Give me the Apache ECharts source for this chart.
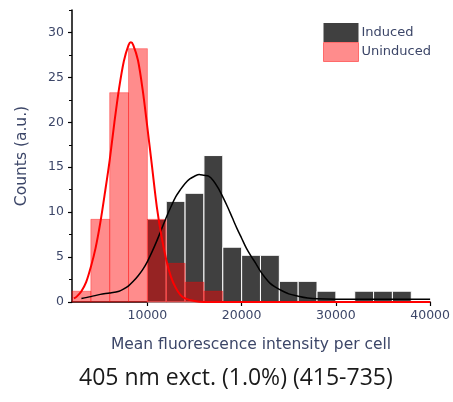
<!DOCTYPE html>
<html>
<head>
<meta charset="utf-8">
<script src="https://cdn.jsdelivr.net/npm/echarts@6/dist/echarts.min.js"></script>
<style>
  html, body { margin: 0; padding: 0; background: #fff; }
  #chart { width: 453px; height: 402px; }
</style>
</head>
<body>
<div id="chart"></div>
<script>
// Histogram bins: left edge of each 2000-wide bin
const binWidth = 2000;
const binLeft = [2000, 4000, 6000, 8000, 10000, 12000, 14000, 16000, 18000, 20000,
                 22000, 24000, 26000, 28000, 30000, 32000, 34000, 36000, 38000];
const inducedCounts = [0, 0, 0, 0, 9.2, 11.2, 12.1, 16.3, 6.1, 5.2,
                       5.2, 2.3, 2.3, 1.2, 0, 1.2, 1.2, 1.2, 0];
const uninducedCounts = [1.2, 9.2, 23.3, 28.2, 9.2, 4.3, 2.2, 1.2, 0, 0,
                         0, 0, 0, 0, 0, 0, 0, 0, 0];

// Fitted distribution curves (intensity, counts)
const inducedFitX = [3000, 4000, 5000, 6000, 7000, 7500, 8000, 8500, 9000, 9500,
  10000, 10500, 11000, 11500, 12000, 12500, 13000, 13500, 14000, 14500,
  15000, 15500, 16000, 16500, 17000, 17500, 18000, 18500, 19000, 19500,
  20000, 20500, 21000, 21500, 22000, 22500, 23000, 23500, 24000, 25000,
  26000, 27000, 28000, 30000, 35000, 40000];
const inducedFitY = [0.4, 0.6, 0.85, 1.0, 1.2, 1.45, 1.8, 2.3, 2.9, 3.6,
  4.5, 5.6, 6.8, 8.1, 9.4, 10.6, 11.7, 12.5, 13.2, 13.7,
  14.0, 14.2, 14.1, 14.0, 13.5, 12.7, 11.7, 10.6, 9.4, 8.2,
  7.1, 6.0, 5.1, 4.3, 3.4, 2.7, 2.1, 1.7, 1.4, 0.9,
  0.65, 0.45, 0.35, 0.3, 0.3, 0.3];
const uninducedFitX = [2200, 2500, 3000, 3500, 4000, 4500, 5000, 5500, 6000, 6500,
  7000, 7500, 8000, 8250, 8500, 9000, 9500, 10000, 10500, 11000,
  11500, 12000, 12500, 13000, 13500, 14000, 15000, 16000, 20000, 30000, 40000];
const uninducedFitY = [0.4, 0.6, 1.2, 2.2, 3.9, 6.0, 8.8, 12.2, 15.8, 20.0,
  23.8, 26.8, 28.6, 28.9, 28.6, 26.9, 23.6, 19.4, 15.0, 10.6,
  7.3, 4.7, 2.8, 1.6, 0.8, 0.4, 0.1, 0, 0, 0, 0];

// Axis ticks and labels
const xTickValues = [10000, 20000, 30000, 40000];
const yTickValues = [0, 5, 10, 15, 20, 25, 30];
const yMinorTickValues = [2.5, 7.5, 12.5, 17.5, 22.5, 27.5, 32.5];

const labelColor = '#3c4668';
const tickFont = 'DejaVu Sans';

function bins(counts) {
  return binLeft.map((x, i) => [x, x + binWidth, counts[i]]);
}
function pairs(xs, ys) {
  return xs.map((x, i) => [x, ys[i]]);
}
function histItem(fill, stroke, lw) {
  return function (params, api) {
    const h = api.value(2);
    if (h <= 0) return null;
    const p0 = api.coord([api.value(0), 0]);
    const p1 = api.coord([api.value(1), h]);
    return {
      type: 'rect',
      shape: { x: p0[0], y: p1[1], width: p1[0] - p0[0], height: p0[1] - p1[1] },
      style: { fill: fill, stroke: stroke, lineWidth: lw }
    };
  };
}

const chart = echarts.init(document.getElementById('chart'), null, { renderer: 'canvas' });

chart.setOption({
  animation: false,
  backgroundColor: '#ffffff',
  grid: { left: 72, right: 21, top: 10, bottom: 100 },
  legend: {
    orient: 'vertical',
    left: 323, top: 23,
    itemWidth: 35, itemHeight: 19, itemGap: 0,
    padding: 0,
    icon: 'rect',
    textStyle: { fontFamily: tickFont, fontSize: 13, color: labelColor, padding: [0, 0, 0, -2] },
    data: [
      { name: 'Induced', itemStyle: { color: '#404040', borderWidth: 0 } },
      { name: 'Uninduced', itemStyle: { color: '#ff8c8c', borderColor: '#ff6a6a', borderWidth: 1 } }
    ]
  },
  xAxis: {
    type: 'value',
    min: 2000, max: 40000,
    name: 'Mean fluorescence intensity per cell',
    nameLocation: 'middle',
    nameGap: 35,
    nameTextStyle: { fontFamily: tickFont, fontSize: 15.5, color: labelColor },
    axisLine: { show: true, onZero: false, lineStyle: { color: '#000', width: 1.5 } },
    axisTick: { show: true, inside: false, length: 4, customValues: xTickValues, lineStyle: { color: '#000', width: 1.2 } },
    axisLabel: { customValues: xTickValues, margin: 7, fontFamily: tickFont, fontSize: 12.5, color: labelColor,
                 formatter: v => String(v) },
    splitLine: { show: false }
  },
  yAxis: [{
    type: 'value',
    min: 0, max: 32.5,
    name: 'Counts (a.u.)',
    nameLocation: 'middle',
    nameGap: 42,
    nameTextStyle: { fontFamily: tickFont, fontSize: 15.5, color: labelColor },
    axisLine: { show: true, lineStyle: { color: '#000', width: 1.5 } },
    axisTick: { show: true, inside: false, length: 4, customValues: yTickValues, lineStyle: { color: '#000', width: 1.2 } },
    axisLabel: { customValues: yTickValues, margin: 8, fontFamily: tickFont, fontSize: 12.5, color: labelColor },
    splitLine: { show: false }
  }, {
    type: 'value',
    position: 'left',
    min: 0, max: 32.5,
    axisLine: { show: false },
    axisTick: { show: true, inside: false, length: 3, customValues: yMinorTickValues, lineStyle: { color: '#000', width: 1 } },
    axisLabel: { show: false },
    splitLine: { show: false }
  }],
  graphic: [{
    type: 'text',
    left: 79,
    top: 367,
    style: {
      text: '405 nm exct. (1.0%) (415-735)',
      font: '23px "Open Sans"',
      fill: '#1a1a1a'
    }
  }],
  series: [
    {
      name: 'Induced',
      type: 'custom',
      renderItem: histItem('#404040', '#ffffff', 1),
      encode: { x: [0, 1], y: 2 },
      data: bins(inducedCounts),
      itemStyle: { color: '#404040' },
      z: 2
    },
    {
      name: 'Uninduced',
      type: 'custom',
      renderItem: histItem('rgba(255,0,0,0.45)', 'rgba(255,0,0,0.35)', 1),
      encode: { x: [0, 1], y: 2 },
      data: bins(uninducedCounts),
      itemStyle: { color: '#ff8c8c' },
      z: 3
    },
    {
      name: 'Induced fit',
      type: 'line',
      data: pairs(inducedFitX, inducedFitY),
      showSymbol: false,
      smooth: 0.3,
      lineStyle: { color: '#000', width: 1.5 },
      z: 4
    },
    {
      name: 'Uninduced fit',
      type: 'line',
      data: pairs(uninducedFitX, uninducedFitY),
      showSymbol: false,
      smooth: 0.3,
      lineStyle: { color: '#ff0000', width: 2 },
      z: 5
    }
  ]
});
</script>
</body>
</html>
